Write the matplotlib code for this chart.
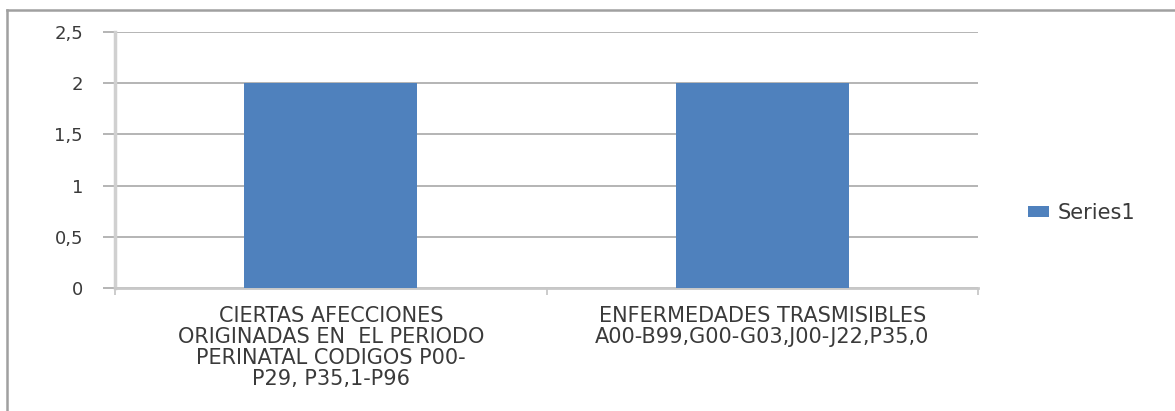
import matplotlib
matplotlib.use('Agg')
import matplotlib.pyplot as plt
from matplotlib.lines import Line2D
from matplotlib.ticker import FuncFormatter

categories = ["CIERTAS AFECCIONES\nORIGINADAS EN  EL PERIODO\nPERINATAL CODIGOS P00-\nP29, P35,1-P96",
              "ENFERMEDADES TRASMISIBLES\nA00-B99,G00-G03,J00-J22,P35,0"]
values = [2, 2]
yticks = [0, 0.5, 1, 1.5, 2, 2.5]
series_name = "Series1"

plt.rcParams['font.family'] = ['DejaVu Sans']
text_color = '#3a3a3a'

fig = plt.figure(figsize=(11.75, 4.11), dpi=100)
ax = fig.add_axes([0.0979, 0.2993, 0.7345, 0.6229])

x = list(range(len(categories)))
ax.bar(x, values, width=0.4, color='#4F81BD', label=series_name, zorder=3)

ax.set_xlim(-0.5, len(categories) - 0.5)
ax.set_ylim(0, 2.5)
ax.set_yticks(yticks)
ax.yaxis.set_major_formatter(FuncFormatter(lambda v, p: ('%g' % v).replace('.', ',')))
ax.grid(axis='y', color='#a8a8a8', linewidth=1.2, zorder=0)

for s in ['top', 'right']:
    ax.spines[s].set_visible(False)
ax.spines['left'].set_color('#d0d0d0')
ax.spines['left'].set_linewidth(2.5)
ax.spines['bottom'].set_color('#c8c8c8')
ax.spines['bottom'].set_linewidth(2)

ax.tick_params(axis='y', length=9, width=1.2, color='#a8a8a8', pad=14,
               labelsize=13, labelcolor=text_color)
ax.set_xticks([-0.5, 0.5, 1.5])
ax.set_xticklabels([])
ax.tick_params(axis='x', length=5, width=1.3, color='#c8c8c8')
ax.set_xticks(x, minor=True)
ax.set_xticklabels(categories, minor=True)
ax.tick_params(axis='x', which='minor', length=0, pad=13, labelsize=15,
               labelcolor=text_color)
for lbl in ax.get_xticklabels(minor=True):
    lbl.set_linespacing(1.07)
    lbl.set_verticalalignment('top')

leg = ax.legend(loc='center left', bbox_to_anchor=(1.058, 0.293), frameon=False,
                fontsize=15, borderaxespad=0, borderpad=0,
                handlelength=1.0, handleheight=0.38, handletextpad=0.42)
for t in leg.get_texts():
    t.set_color(text_color)

# outer chart border (only top and left are inside the picture)
fig.add_artist(Line2D([7 / 1175, 1], [1 - 10 / 411, 1 - 10 / 411], color='#a0a0a0', linewidth=1.8))
fig.add_artist(Line2D([7 / 1175, 7 / 1175], [0, 1 - 10 / 411], color='#a0a0a0', linewidth=1.8))

fig.savefig('out.png', dpi=100)
